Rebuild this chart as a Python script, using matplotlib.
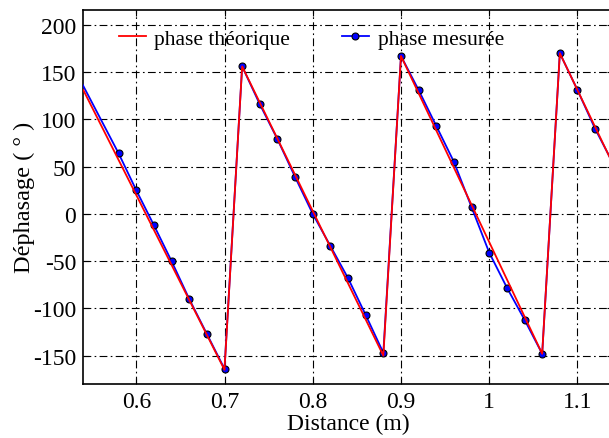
import matplotlib
matplotlib.use('Agg')
import matplotlib.pyplot as plt

# ── Data ──────────────────────────────────────────────────────────────────────
dist_meas = [0.52, 0.58, 0.60, 0.62, 0.64, 0.66, 0.68, 0.70,
             0.72, 0.74, 0.76, 0.78, 0.80, 0.82, 0.84, 0.86, 0.88,
             0.90, 0.92, 0.94, 0.96, 0.98, 1.00, 1.02, 1.04, 1.06,
             1.08, 1.10, 1.12, 1.14]
phase_meas = [171, 64, 25, -12, -50, -90, -127, -164,
              156, 116, 79, 39, 0, -34, -68, -107, -147,
              167, 131, 93, 55, 7, -41, -78, -112, -148,
              170, 131, 90, 54]

dist_theo = [0.54, 0.70, 0.72, 0.88, 0.90, 1.06, 1.08, 1.14]
phase_theo = [131, -165, 156, -150, 167, -148, 170, 53]

xticks = [0.6, 0.7, 0.8, 0.9, 1.0, 1.1]
xtick_labels = ['0.6', '0.7', '0.8', '0.9', '1', '1.1']
yticks = [-150, -100, -50, 0, 50, 100, 150, 200]

# ── Figure ────────────────────────────────────────────────────────────────────
plt.rcParams['font.family'] = ['Liberation Serif', 'DejaVu Serif']
plt.rcParams['axes.unicode_minus'] = False

fig = plt.figure(figsize=(6.09, 4.39), dpi=100)
ax = fig.add_axes([0.1368, 0.123, 0.8694, 0.8526])

line_m, = ax.plot(dist_meas, phase_meas, color='blue', lw=1.3, marker='o',
                  markersize=5, markerfacecolor='blue', markeredgecolor='black',
                  markeredgewidth=0.8, zorder=3)
line_t, = ax.plot(dist_theo, phase_theo, color='red', lw=1.3, zorder=4)

ax.set_xlim(0.54, 1.14)
ax.set_ylim(-180, 216)
ax.set_xticks(xticks)
ax.set_xticklabels(xtick_labels)
ax.set_yticks(yticks)
ax.tick_params(direction='in', labelsize=17, length=4, width=0.8,
               top=True, right=True, pad=5)

ax.grid(True, color='black', linestyle=(0, (7, 3, 1.5, 3)), linewidth=0.8)
for s in ax.spines.values():
    s.set_linewidth(1.2)

ax.set_xlabel('Distance (m)', fontsize=17, labelpad=1)
ax.set_ylabel('Déphasage ( ° )', fontsize=17.5, labelpad=-1)

ax.legend([line_t, line_m], ['phase théorique', 'phase mesurée'],
          ncol=2, frameon=False, fontsize=15.5, loc='center left',
          bbox_to_anchor=(0.047, 0.922), borderpad=0,
          handlelength=1.25, handletextpad=0.4, columnspacing=2.4)

fig.savefig('out.png', dpi=100)
